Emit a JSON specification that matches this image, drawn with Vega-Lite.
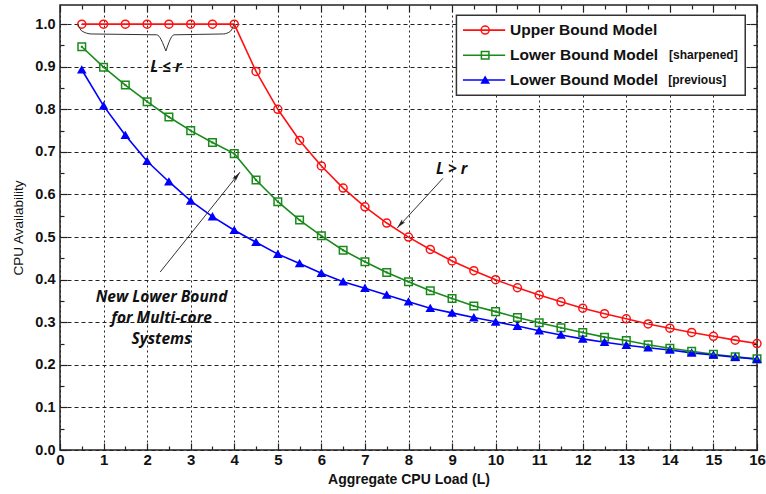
{
  "$schema": "https://vega.github.io/schema/vega-lite/v6.json",
  "width": 697,
  "height": 445,
  "autosize": "none",
  "padding": {"left": 60, "top": 5, "right": 9, "bottom": 44},
  "background": "white",
  "config": {"view": {"stroke": "#222", "strokeWidth": 1.5}, "font": "Liberation Sans"},
  "datasets": {
    "series": [
      {"L":0.5,"A":1.0,"series":"upper"},{"L":1,"A":1.0,"series":"upper"},{"L":1.5,"A":1.0,"series":"upper"},{"L":2,"A":1.0,"series":"upper"},
      {"L":2.5,"A":1.0,"series":"upper"},{"L":3,"A":1.0,"series":"upper"},{"L":3.5,"A":1.0,"series":"upper"},{"L":4,"A":1.0,"series":"upper"},
      {"L":4.5,"A":0.889,"series":"upper"},{"L":5,"A":0.8,"series":"upper"},{"L":5.5,"A":0.727,"series":"upper"},{"L":6,"A":0.667,"series":"upper"},
      {"L":6.5,"A":0.615,"series":"upper"},{"L":7,"A":0.571,"series":"upper"},{"L":7.5,"A":0.533,"series":"upper"},{"L":8,"A":0.5,"series":"upper"},
      {"L":8.5,"A":0.471,"series":"upper"},{"L":9,"A":0.444,"series":"upper"},{"L":9.5,"A":0.421,"series":"upper"},{"L":10,"A":0.4,"series":"upper"},
      {"L":10.5,"A":0.381,"series":"upper"},{"L":11,"A":0.364,"series":"upper"},{"L":11.5,"A":0.348,"series":"upper"},{"L":12,"A":0.333,"series":"upper"},
      {"L":12.5,"A":0.32,"series":"upper"},{"L":13,"A":0.308,"series":"upper"},{"L":13.5,"A":0.296,"series":"upper"},{"L":14,"A":0.286,"series":"upper"},
      {"L":14.5,"A":0.276,"series":"upper"},{"L":15,"A":0.267,"series":"upper"},{"L":15.5,"A":0.258,"series":"upper"},{"L":16,"A":0.25,"series":"upper"},
      {"L":0.5,"A":0.947,"series":"sharpened"},{"L":1,"A":0.899,"series":"sharpened"},{"L":1.5,"A":0.857,"series":"sharpened"},{"L":2,"A":0.818,"series":"sharpened"},
      {"L":2.5,"A":0.782,"series":"sharpened"},{"L":3,"A":0.75,"series":"sharpened"},{"L":3.5,"A":0.722,"series":"sharpened"},{"L":4,"A":0.696,"series":"sharpened"},
      {"L":4.5,"A":0.634,"series":"sharpened"},{"L":5,"A":0.583,"series":"sharpened"},{"L":5.5,"A":0.54,"series":"sharpened"},{"L":6,"A":0.503,"series":"sharpened"},
      {"L":6.5,"A":0.469,"series":"sharpened"},{"L":7,"A":0.442,"series":"sharpened"},{"L":7.5,"A":0.417,"series":"sharpened"},{"L":8,"A":0.395,"series":"sharpened"},
      {"L":8.5,"A":0.374,"series":"sharpened"},{"L":9,"A":0.356,"series":"sharpened"},{"L":9.5,"A":0.338,"series":"sharpened"},{"L":10,"A":0.325,"series":"sharpened"},
      {"L":10.5,"A":0.311,"series":"sharpened"},{"L":11,"A":0.299,"series":"sharpened"},{"L":11.5,"A":0.287,"series":"sharpened"},{"L":12,"A":0.276,"series":"sharpened"},
      {"L":12.5,"A":0.265,"series":"sharpened"},{"L":13,"A":0.257,"series":"sharpened"},{"L":13.5,"A":0.247,"series":"sharpened"},{"L":14,"A":0.239,"series":"sharpened"},
      {"L":14.5,"A":0.232,"series":"sharpened"},{"L":15,"A":0.225,"series":"sharpened"},{"L":15.5,"A":0.219,"series":"sharpened"},{"L":16,"A":0.214,"series":"sharpened"},
      {"L":0.5,"A":0.893,"series":"previous"},{"L":1,"A":0.808,"series":"previous"},{"L":1.5,"A":0.739,"series":"previous"},{"L":2,"A":0.678,"series":"previous"},
      {"L":2.5,"A":0.63,"series":"previous"},{"L":3,"A":0.585,"series":"previous"},{"L":3.5,"A":0.548,"series":"previous"},{"L":4,"A":0.516,"series":"previous"},
      {"L":4.5,"A":0.488,"series":"previous"},{"L":5,"A":0.46,"series":"previous"},{"L":5.5,"A":0.438,"series":"previous"},{"L":6,"A":0.415,"series":"previous"},
      {"L":6.5,"A":0.395,"series":"previous"},{"L":7,"A":0.38,"series":"previous"},{"L":7.5,"A":0.364,"series":"previous"},{"L":8,"A":0.348,"series":"previous"},
      {"L":8.5,"A":0.333,"series":"previous"},{"L":9,"A":0.322,"series":"previous"},{"L":9.5,"A":0.311,"series":"previous"},{"L":10,"A":0.301,"series":"previous"},
      {"L":10.5,"A":0.291,"series":"previous"},{"L":11,"A":0.28,"series":"previous"},{"L":11.5,"A":0.27,"series":"previous"},{"L":12,"A":0.261,"series":"previous"},
      {"L":12.5,"A":0.253,"series":"previous"},{"L":13,"A":0.246,"series":"previous"},{"L":13.5,"A":0.24,"series":"previous"},{"L":14,"A":0.235,"series":"previous"},
      {"L":14.5,"A":0.228,"series":"previous"},{"L":15,"A":0.223,"series":"previous"},{"L":15.5,"A":0.218,"series":"previous"},{"L":16,"A":0.213,"series":"previous"}
    ],
    "legendBox": [{"x1":9.1,"x2":15.73,"y1":0.833,"y2":1.021}],
    "legendLines": [
      {"series":"upper","x":9.25,"y":0.986},{"series":"upper","x":10.22,"y":0.986},
      {"series":"sharpened","x":9.25,"y":0.927},{"series":"sharpened","x":10.22,"y":0.927},
      {"series":"previous","x":9.25,"y":0.869},{"series":"previous","x":10.22,"y":0.869}
    ],
    "legendPts": [
      {"series":"upper","x":9.76,"y":0.986},
      {"series":"sharpened","x":9.76,"y":0.927},
      {"series":"previous","x":9.76,"y":0.869}
    ],
    "legendText": [
      {"x":10.33,"y":0.986,"t":"Upper Bound Model"},
      {"x":10.33,"y":0.927,"t":"Lower Bound Model"},
      {"x":10.33,"y":0.869,"t":"Lower Bound Model"}
    ],
    "legendSuffix": [
      {"x":13.98,"y":0.927,"t":"[sharpened]"},
      {"x":13.96,"y":0.869,"t":"[previous]"}
    ],
    "brace": [
      {"h":"a","x":0.41,"y":1.0},{"h":"a","x":0.5,"y":0.984},{"h":"a","x":0.72,"y":0.977},{"h":"a","x":2.22,"y":0.975},{"h":"a","x":2.43,"y":0.937},
      {"h":"b","x":2.43,"y":0.937},{"h":"b","x":2.62,"y":0.975},{"h":"b","x":3.75,"y":0.977},{"h":"b","x":3.92,"y":0.984},{"h":"b","x":3.99,"y":1.0}
    ],
    "arrows": [
      {"id":"a","x":8.79,"y":0.638},{"id":"a","x":7.74,"y":0.521},
      {"id":"b","x":2.3,"y":0.418},{"id":"b","x":4.132,"y":0.6526}
    ],
    "heads": [
      {"id":"a","x":7.815,"y":0.530},
      {"id":"b","x":4.06,"y":0.643}
    ],
    "notes": [
      {"x":2.43,"y":0.9,"t":"L ≤ r"},
      {"x":8.99,"y":0.659,"t":"L > r"},
      {"x":2.33,"y":0.36,"t":"New Lower Bound"},
      {"x":2.33,"y":0.309,"t":"for Multi-core"},
      {"x":2.33,"y":0.26,"t":"Systems"}
    ]
  },
  "resolve": {"axis": {"x": "independent", "y": "independent"}},
  "layer": [
    {
      "data": {"name": "series"},
      "mark": {"type": "line", "strokeWidth": 1.6},
      "encoding": {
        "x": {"field": "L", "type": "quantitative", "scale": {"domain": [0, 16], "nice": false},
          "axis": {"orient": "bottom", "values": [0,1,2,3,4,5,6,7,8,9,10,11,12,13,14,15,16],
            "grid": true, "gridDash": [2, 3], "gridColor": "#222", "gridOpacity": 1, "gridWidth": 1,
            "tickSize": -7, "tickColor": "#222", "tickWidth": 1.2, "domain": false,
            "labelFont": "Liberation Sans", "labelFontWeight": "bold", "labelFontSize": 15, "labelColor": "#111",
            "labelPadding": 9, "labelFlush": false, "labelOverlap": false, "labelBound": false,
            "title": "Aggregate CPU Load (L)", "titleFont": "Liberation Sans", "titleFontSize": 14,
            "titleFontWeight": "bold", "titleColor": "#111", "titlePadding": 5}},
        "y": {"field": "A", "type": "quantitative", "scale": {"domain": [0, 1.045], "nice": false},
          "axis": {"orient": "left", "values": [0,0.1,0.2,0.3,0.4,0.5,0.6,0.7,0.8,0.9,1.0], "format": ".1f",
            "grid": true, "gridDash": [4, 3], "gridColor": "#222", "gridOpacity": 1, "gridWidth": 1,
            "tickSize": -7, "tickColor": "#222", "tickWidth": 1.2, "domain": false,
            "labelFont": "Liberation Sans", "labelFontWeight": "bold", "labelFontSize": 14.5, "labelColor": "#111",
            "labelPadding": 12, "labelFlush": false, "labelOverlap": false, "labelBound": false,
            "title": "CPU Availability", "titleFont": "Liberation Sans", "titleFontSize": 13.5,
            "titleFontWeight": "normal", "titleColor": "#111", "titlePadding": 9}},
        "color": {"field": "series", "type": "nominal",
          "scale": {"domain": ["upper", "sharpened", "previous"], "range": ["#ff1010", "#1a8a1a", "#0000ff"]},
          "legend": null}
      }
    },
    {
      "data": {"name": "series"},
      "mark": {"type": "point", "strokeWidth": 1.5, "opacity": 1},
      "encoding": {
        "x": {"field": "L", "type": "quantitative", "scale": {"domain": [0, 16], "nice": false}, "axis": null},
        "y": {"field": "A", "type": "quantitative", "scale": {"domain": [0, 1.045], "nice": false}, "axis": null},
        "color": {"field": "series", "type": "nominal", "legend": null},
        "shape": {"field": "series", "type": "nominal",
          "scale": {"domain": ["upper", "sharpened", "previous"], "range": ["circle", "square", "triangle-up"]}, "legend": null},
        "fill": {"field": "series", "type": "nominal",
          "scale": {"domain": ["upper", "sharpened", "previous"], "range": ["transparent", "transparent", "#0000ff"]}, "legend": null},
        "size": {"field": "series", "type": "nominal",
          "scale": {"domain": ["upper", "sharpened", "previous"], "range": [64, 50, 36]}, "legend": null}
      }
    },
    {
      "data": {"name": "series"},
      "transform": [{"filter": "datum.series === 'sharpened'"}],
      "mark": {"type": "square", "size": 4, "color": "#1a8a1a", "opacity": 1},
      "encoding": {
        "x": {"field": "L", "type": "quantitative", "scale": {"domain": [0, 16], "nice": false}, "axis": null},
        "y": {"field": "A", "type": "quantitative", "scale": {"domain": [0, 1.045], "nice": false}, "axis": null}
      }
    },
    {
      "data": {"name": "legendBox"},
      "mark": {"type": "rect", "fill": "white", "stroke": "#333", "strokeWidth": 1.5},
      "encoding": {
        "x": {"field": "x1", "type": "quantitative", "scale": {"domain": [0, 16], "nice": false}, "axis": null},
        "x2": {"field": "x2"},
        "y": {"field": "y1", "type": "quantitative", "scale": {"domain": [0, 1.045], "nice": false}, "axis": null},
        "y2": {"field": "y2"}
      }
    },
    {
      "data": {"name": "legendLines"},
      "mark": {"type": "line", "strokeWidth": 1.6},
      "encoding": {
        "x": {"field": "x", "type": "quantitative", "scale": {"domain": [0, 16], "nice": false}, "axis": null},
        "y": {"field": "y", "type": "quantitative", "scale": {"domain": [0, 1.045], "nice": false}, "axis": null},
        "color": {"field": "series", "type": "nominal", "legend": null}
      }
    },
    {
      "data": {"name": "legendPts"},
      "mark": {"type": "point", "strokeWidth": 1.5, "opacity": 1},
      "encoding": {
        "x": {"field": "x", "type": "quantitative", "scale": {"domain": [0, 16], "nice": false}, "axis": null},
        "y": {"field": "y", "type": "quantitative", "scale": {"domain": [0, 1.045], "nice": false}, "axis": null},
        "color": {"field": "series", "type": "nominal", "legend": null},
        "shape": {"field": "series", "type": "nominal", "legend": null},
        "fill": {"field": "series", "type": "nominal", "legend": null},
        "size": {"field": "series", "type": "nominal", "legend": null}
      }
    },
    {
      "data": {"name": "legendText"},
      "mark": {"type": "text", "align": "left", "baseline": "middle", "font": "Liberation Sans", "fontWeight": "bold", "fontSize": 15.5, "color": "#111"},
      "encoding": {
        "x": {"field": "x", "type": "quantitative", "scale": {"domain": [0, 16], "nice": false}, "axis": null},
        "y": {"field": "y", "type": "quantitative", "scale": {"domain": [0, 1.045], "nice": false}, "axis": null},
        "text": {"field": "t"}
      }
    },
    {
      "data": {"name": "legendSuffix"},
      "mark": {"type": "text", "align": "left", "baseline": "middle", "font": "Liberation Sans", "fontWeight": "bold", "fontSize": 12, "color": "#111"},
      "encoding": {
        "x": {"field": "x", "type": "quantitative", "scale": {"domain": [0, 16], "nice": false}, "axis": null},
        "y": {"field": "y", "type": "quantitative", "scale": {"domain": [0, 1.045], "nice": false}, "axis": null},
        "text": {"field": "t"}
      }
    },
    {
      "data": {"name": "brace"},
      "mark": {"type": "line", "interpolate": "monotone", "strokeWidth": 1, "color": "#333"},
      "encoding": {
        "x": {"field": "x", "type": "quantitative", "scale": {"domain": [0, 16], "nice": false},
          "axis": {"orient": "top", "values": [0,1,2,3,4,5,6,7,8,9,10,11,12,13,14,15,16], "grid": false,
            "tickSize": -7, "tickColor": "#222", "tickWidth": 1.2, "labels": false, "domain": false, "title": null}},
        "y": {"field": "y", "type": "quantitative", "scale": {"domain": [0, 1.045], "nice": false},
          "axis": {"orient": "right", "values": [0,0.1,0.2,0.3,0.4,0.5,0.6,0.7,0.8,0.9,1.0], "grid": false,
            "tickSize": -7, "tickColor": "#222", "tickWidth": 1.2, "labels": false, "domain": false, "title": null}},
        "detail": {"field": "h"}
      }
    },
    {
      "data": {"name": "arrows"},
      "mark": {"type": "line", "strokeWidth": 1, "color": "#333"},
      "encoding": {
        "x": {"field": "x", "type": "quantitative", "scale": {"domain": [0, 16], "nice": false},
          "axis": {"orient": "bottom", "values": [0.5,1.5,2.5,3.5,4.5,5.5,6.5,7.5,8.5,9.5,10.5,11.5,12.5,13.5,14.5,15.5], "grid": false,
            "tickSize": -4, "tickColor": "#222", "tickWidth": 1.2, "labels": false, "domain": false, "title": null}},
        "y": {"field": "y", "type": "quantitative", "scale": {"domain": [0, 1.045], "nice": false},
          "axis": {"orient": "left", "values": [0.05,0.15,0.25,0.35,0.45,0.55,0.65,0.75,0.85,0.95], "grid": false,
            "tickSize": -4, "tickColor": "#222", "tickWidth": 1.2, "labels": false, "domain": false, "title": null}},
        "detail": {"field": "id"}
      }
    },
    {
      "data": {"name": "heads"},
      "transform": [{"filter": "datum.id === 'a'"}],
      "mark": {"type": "point", "shape": "M0,-1L0.45,1L0,0.6L-0.45,1Z", "filled": true, "size": 90, "angle": 222.6, "color": "#222", "opacity": 1},
      "encoding": {
        "x": {"field": "x", "type": "quantitative", "scale": {"domain": [0, 16], "nice": false},
          "axis": {"orient": "top", "values": [0.5,1.5,2.5,3.5,4.5,5.5,6.5,7.5,8.5,9.5,10.5,11.5,12.5,13.5,14.5,15.5], "grid": false,
            "tickSize": -4, "tickColor": "#222", "tickWidth": 1.2, "labels": false, "domain": false, "title": null}},
        "y": {"field": "y", "type": "quantitative", "scale": {"domain": [0, 1.045], "nice": false},
          "axis": {"orient": "right", "values": [0.05,0.15,0.25,0.35,0.45,0.55,0.65,0.75,0.85,0.95], "grid": false,
            "tickSize": -4, "tickColor": "#222", "tickWidth": 1.2, "labels": false, "domain": false, "title": null}}
      }
    },
    {
      "data": {"name": "heads"},
      "transform": [{"filter": "datum.id === 'b'"}],
      "mark": {"type": "point", "shape": "M0,-1L0.45,1L0,0.6L-0.45,1Z", "filled": true, "size": 90, "angle": 38.7, "color": "#222", "opacity": 1},
      "encoding": {
        "x": {"field": "x", "type": "quantitative", "scale": {"domain": [0, 16], "nice": false}, "axis": null},
        "y": {"field": "y", "type": "quantitative", "scale": {"domain": [0, 1.045], "nice": false}, "axis": null}
      }
    },
    {
      "data": {"name": "notes"},
      "mark": {"type": "text", "align": "center", "baseline": "middle", "font": "Open Sans", "fontStyle": "italic", "fontWeight": "bold", "fontSize": 15.5, "color": "#111"},
      "encoding": {
        "x": {"field": "x", "type": "quantitative", "scale": {"domain": [0, 16], "nice": false}, "axis": null},
        "y": {"field": "y", "type": "quantitative", "scale": {"domain": [0, 1.045], "nice": false}, "axis": null},
        "text": {"field": "t"}
      }
    }
  ]
}
